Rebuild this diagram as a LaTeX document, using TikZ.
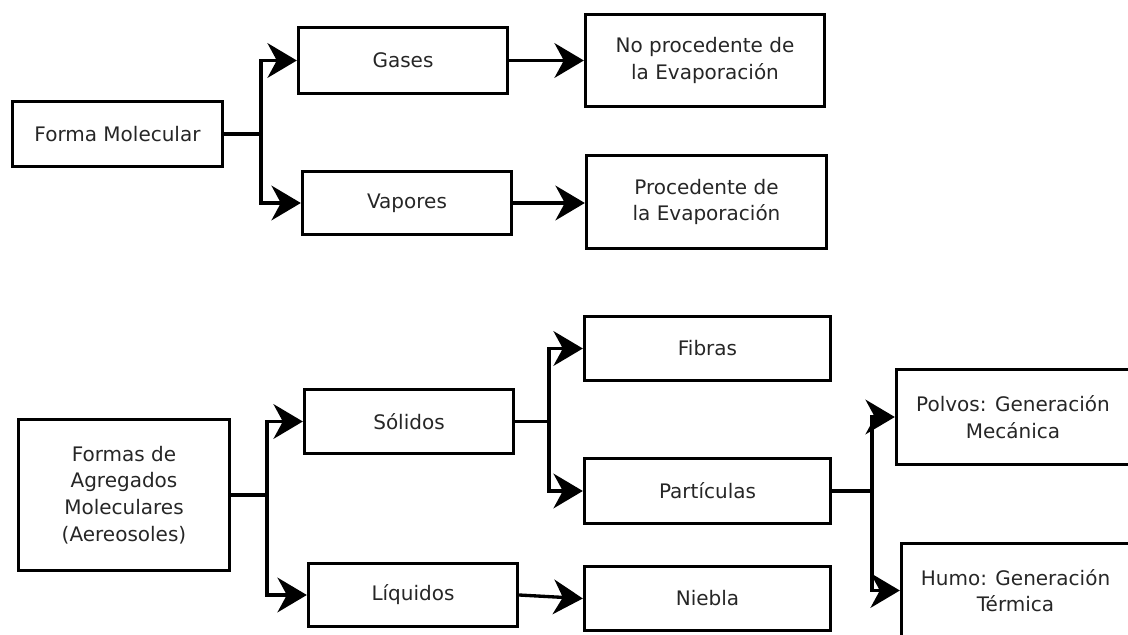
\documentclass[tikz,border=0pt]{standalone}
\usepackage{fontspec}
\setmainfont{DejaVu Sans}
\usetikzlibrary{arrows.meta}
\begin{document}
\begin{tikzpicture}[x=0.75pt,y=-0.75pt,
 box/.style={draw, line width=2.5pt, align=center, inner sep=0pt, text=black!85, font=\fontsize{15}{20}\selectfont},
 link/.style={line width=2.5pt},
 arr/.style={link, -{Stealth[length=22pt,width=26pt,inset=7pt]}}]
\newcommand\mkbox[6]{\node[box, minimum width={(#4-#2-3)*0.75pt}, minimum height={(#5-#3-3)*0.75pt}] (#1) at ({(#2+#4)/2},{(#3+#5)/2}) {#6};}
\useasboundingbox (0,0) rectangle (1128,635);
\clip (0,0) rectangle (1128,635);
% top group
\mkbox{fm}{11}{100}{224}{168}{Forma Molecular}
\mkbox{gas}{297}{26}{509}{95}{Gases}
\mkbox{vap}{301}{170}{513}{236}{Vapores}
\mkbox{nop}{584}{13}{826}{108}{No procedente de\\la Evaporación}
\mkbox{pro}{585}{154}{828}{250}{Procedente de\\la Evaporación}
% bottom group
\mkbox{fa}{17}{418}{231}{572}{Formas de\\Agregados\\Moleculares\\(Aereosoles)}
\mkbox{sol}{303}{388}{515}{455}{Sólidos}
\mkbox{liq}{307}{562}{519}{628}{Líquidos}
\mkbox{fib}{583}{315}{832}{382}{Fibras}
\mkbox{par}{583}{457}{832}{525}{Partículas}
\mkbox{nie}{583}{565}{832}{632}{Niebla}
\mkbox{pol}{895}{368}{1131}{466}{Polvos: Generación\\Mecánica}
\mkbox{hum}{900}{542}{1131}{639}{Humo: Generación\\Térmica}
% junctions
\coordinate (j1) at (261,0);
\coordinate (j2) at (267,0);
\coordinate (j3) at (549,0);
\coordinate (j4) at (872,0);
% connectors
\draw[link] (fm.east) -- (fm.east -| j1);
\draw[arr] (fm.east -| j1) |- (gas.west);
\draw[arr] (fm.east -| j1) |- (vap.west);
\draw[arr] (gas.east) -- (nop.west |- gas.east);
\draw[arr] (vap.east) -- (pro.west |- vap.east);
\draw[link] (fa.east) -- (fa.east -| j2);
\draw[arr] (fa.east -| j2) |- (sol.west);
\draw[arr] (fa.east -| j2) |- (liq.west);
\draw[link] (sol.east) -- (sol.east -| j3);
\draw[arr] (sol.east -| j3) |- (fib.west);
\draw[arr] (sol.east -| j3) |- (par.west);
\draw[arr] (liq.east) -- (nie.west);
\draw[link] (par.east) -- (par.east -| j4);
\draw[arr] (par.east -| j4) |- (pol.west);
\draw[arr] (par.east -| j4) |- (hum.west);
\end{tikzpicture}
\end{document}
